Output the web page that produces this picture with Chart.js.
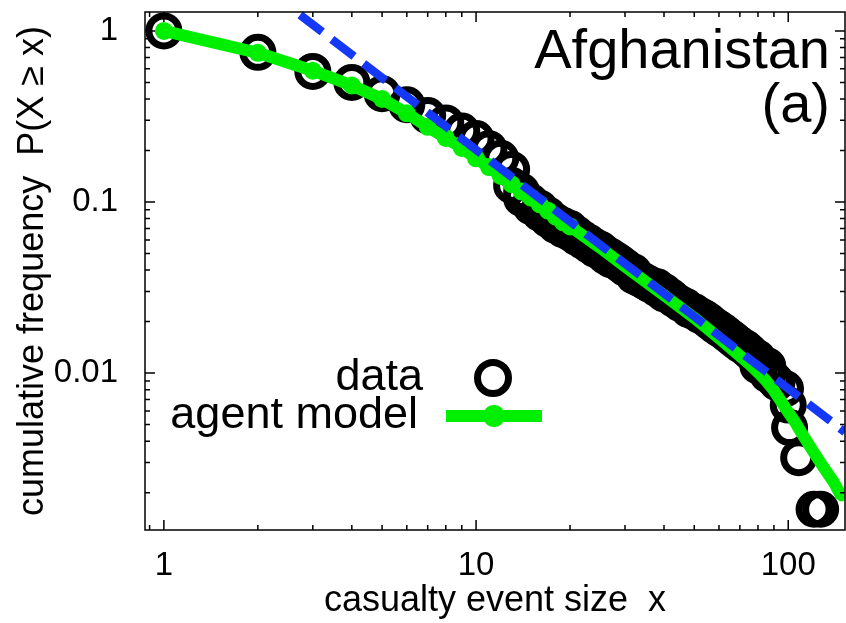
<!DOCTYPE html>
<html>
<head>
<meta charset="utf-8">
<script src="https://cdn.jsdelivr.net/npm/chart.js@4/dist/chart.umd.min.js"></script>
<style>
  html, body { margin: 0; padding: 0; background: #fff; }
  canvas { display: block; }
</style>
</head>
<body>
<canvas id="ccdf" width="846" height="623"></canvas>
<script>
// observed casualty events: size x and P(X >= x); tied sizes stack vertically
const dataX = [1, 2, 3, 4, 5, 6, 7, 8, 9, 10, 11, 12,
  13, 13, 14, 14, 15, 15, 16, 16, 17, 17, 18, 18, 19, 19, 20, 20, 21, 21, 22, 22, 23, 23, 24, 24,
  25, 25, 26, 26, 27, 27, 28, 28, 29, 29, 30, 30, 32, 32, 33, 34, 35, 36, 38, 38, 40, 40,
  42, 43, 45, 47, 48, 50, 52, 54, 56, 58, 60, 62, 64, 66, 68, 70, 73, 75, 77, 80, 80, 82, 86, 86, 90, 92,
  98, 100, 101, 108, 121, 127];
const dataP = [1.0, 0.75, 0.58, 0.50, 0.43, 0.37, 0.32, 0.29, 0.26, 0.235, 0.205, 0.18,
  0.155, 0.125, 0.115, 0.105, 0.1, 0.094, 0.092, 0.086, 0.084, 0.079, 0.077, 0.073, 0.073, 0.069, 0.07, 0.066, 0.065, 0.062, 0.061, 0.059, 0.058, 0.056, 0.055, 0.053,
  0.053, 0.051, 0.05, 0.048, 0.048, 0.046, 0.046, 0.045, 0.044, 0.043, 0.042, 0.041, 0.039, 0.037, 0.036, 0.035, 0.034, 0.033, 0.032, 0.031, 0.03, 0.029,
  0.028, 0.027, 0.0255, 0.0245, 0.0235, 0.0228, 0.0218, 0.021, 0.02, 0.019, 0.0182, 0.0175, 0.0167, 0.016, 0.0153, 0.0147, 0.014, 0.0134, 0.0128, 0.0122, 0.011, 0.0115, 0.011, 0.0098, 0.0092, 0.0088,
  0.0081, 0.0065, 0.0048, 0.0032, 0.0016, 0.0016];

// agent model output
const modelX = [1, 2, 3, 4, 5, 6, 7, 8, 9, 10, 11, 12, 13, 14, 15, 16, 17, 18, 19, 20,
  25, 30, 40, 50, 60, 70, 75, 80, 85, 90, 95, 100, 105, 110, 120, 130, 140, 148];
const modelP = [1.0, 0.745, 0.585, 0.48, 0.40, 0.33, 0.275, 0.237, 0.207, 0.18, 0.16, 0.142, 0.127, 0.115, 0.106, 0.097, 0.089, 0.082, 0.076, 0.072,
  0.054, 0.042, 0.0285, 0.021, 0.016, 0.0126, 0.0113, 0.0101, 0.009, 0.0079, 0.0068, 0.0059, 0.0052, 0.0045, 0.0035, 0.0028, 0.0023, 0.0019];

// power-law fit, end points
const fitX = [2.73, 152];
const fitP = [1.24, 0.00452];

const xTickVals = [1, 10, 100];
const xTickLabels = ['1', '10', '100'];
const yTickVals = [0.01, 0.1, 1];
const yTickLabels = ['0.01', '0.1', '1'];

const FONT = "'Liberation Sans', Arial, Helvetica, sans-serif";
const GREEN = '#00ee00';
const BLUE = '#1438f5';

const pts = (xs, ys) => xs.map((x, i) => ({ x: x, y: ys[i] }));

// no extra room for edge labels: the plot box is fixed
const fixBox = (w, h) => s => {
  if (w) s.width = w;
  if (h) s.height = h;
  s.paddingTop = s.paddingBottom = s.paddingLeft = s.paddingRight = 0;
};

// inward ticks on all four sides, gnuplot style, plus frame
const frameTicks = {
  id: 'frameTicks',
  afterDatasetsDraw(chart) {
    const { ctx, chartArea: a, scales } = chart;
    ctx.save();
    ctx.strokeStyle = '#000';
    ctx.lineWidth = 1.5;
    ctx.strokeRect(a.left, a.top, a.right - a.left, a.bottom - a.top);
    const tickVals = (sc) => {
      const out = [];
      for (let d = Math.floor(Math.log10(sc.min)); d <= Math.ceil(Math.log10(sc.max)); d++) {
        for (let m = 1; m <= 9; m++) {
          const v = m * Math.pow(10, d);
          if (v >= sc.min && v <= sc.max) out.push({ v: v, major: m === 1 });
        }
      }
      return out;
    };
    ctx.beginPath();
    tickVals(scales.x).forEach(t => {
      const px = scales.x.getPixelForValue(t.v);
      const len = t.major ? 10 : 5;
      ctx.moveTo(px, a.bottom); ctx.lineTo(px, a.bottom - len);
      ctx.moveTo(px, a.top); ctx.lineTo(px, a.top + len);
    });
    tickVals(scales.y).forEach(t => {
      const py = scales.y.getPixelForValue(t.v);
      const len = t.major ? 10 : 5;
      ctx.moveTo(a.left, py); ctx.lineTo(a.left + len, py);
      ctx.moveTo(a.right, py); ctx.lineTo(a.right - len, py);
    });
    ctx.stroke();
    ctx.restore();
  },
  afterDraw(chart) {
    const { ctx } = chart;
    ctx.save();
    ctx.fillStyle = '#000';
    ctx.textAlign = 'right';
    ctx.textBaseline = 'alphabetic';
    ctx.font = '56px ' + FONT;
    ctx.fillText('Afghanistan', 830, 68);
    ctx.fillText('(a)', 830, 122);

    // key
    ctx.font = '45px ' + FONT;
    ctx.fillText('data', 423, 390);
    ctx.fillText('agent model', 418, 428);
    ctx.strokeStyle = '#000';
    ctx.lineWidth = 7;
    ctx.beginPath();
    ctx.arc(493, 378, 15.5, 0, Math.PI * 2);
    ctx.stroke();
    ctx.strokeStyle = GREEN;
    ctx.lineWidth = 12;
    ctx.beginPath();
    ctx.moveTo(446, 416); ctx.lineTo(542, 416);
    ctx.stroke();
    ctx.fillStyle = GREEN;
    ctx.beginPath();
    ctx.arc(494, 416, 11, 0, Math.PI * 2);
    ctx.fill();
    ctx.restore();
  }
};

new Chart(document.getElementById('ccdf').getContext('2d'), {
  type: 'scatter',
  data: {
    datasets: [
      {
        label: 'fit',
        data: pts(fitX, fitP),
        showLine: true,
        borderColor: BLUE,
        borderWidth: 8.5,
        borderDash: [28, 12],
        pointRadius: 0,
        order: 0
      },
      {
        label: 'agent model',
        data: pts(modelX, modelP),
        showLine: true,
        borderColor: GREEN,
        backgroundColor: GREEN,
        borderWidth: 12,
        borderJoinStyle: 'round',
        pointRadius: ctx => (ctx.raw && ctx.raw.x <= 20 ? 9 : 5),
        pointBorderWidth: 0,
        order: 1
      },
      {
        label: 'data',
        data: pts(dataX, dataP),
        showLine: false,
        borderColor: '#000',
        backgroundColor: 'rgba(0,0,0,0)',
        pointRadius: 15,
        pointBorderWidth: 7,
        order: 2
      }
    ]
  },
  options: {
    responsive: false,
    animation: false,
    layout: { autoPadding: false, padding: { top: 12, right: 1, left: 0, bottom: 0 } },
    plugins: { legend: { display: false }, tooltip: { enabled: false } },
    scales: {
      x: {
        type: 'logarithmic',
        min: 0.87,
        max: 152,
        grid: { display: false, drawTicks: false },
        border: { display: false },
        afterFit: fixBox(0, 93),
        afterBuildTicks: s => { s.ticks = xTickVals.map(v => ({ value: v })); },
        ticks: {
          autoSkip: false,
          maxRotation: 0,
          padding: 16,
          color: '#000',
          font: { family: FONT, size: 33 },
          callback: (v, i) => xTickLabels[i]
        },
        title: {
          display: true,
          text: 'casualty event size  x',
          color: '#000',
          font: { family: FONT, size: 36 },
          padding: { top: 0, bottom: 0 }
        }
      },
      y: {
        type: 'logarithmic',
        min: 0.00121,
        max: 1.29,
        grid: { display: false, drawTicks: false },
        border: { display: false },
        afterFit: fixBox(145, 0),
        afterBuildTicks: s => { s.ticks = yTickVals.map(v => ({ value: v })); },
        ticks: {
          autoSkip: false,
          padding: 27,
          color: '#000',
          font: { family: FONT, size: 33 },
          callback: (v, i) => yTickLabels[i]
        },
        title: {
          display: true,
          text: 'cumulative frequency  P(X \u2265 x)',
          color: '#000',
          font: { family: FONT, size: 36 },
          padding: { top: 11, bottom: 0 }
        }
      }
    }
  },
  plugins: [frameTicks]
});
</script>
</body>
</html>
